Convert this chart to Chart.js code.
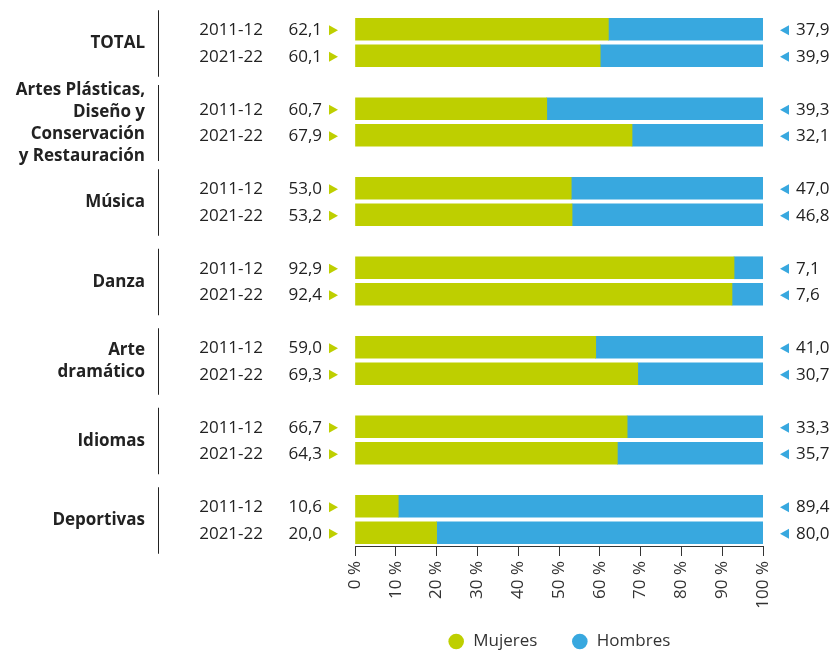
<!DOCTYPE html>
<html lang="es">
<head>
    <meta charset="UTF-8">
    <title>Mujeres y hombres por enseñanza</title>
    <script src="https://cdn.jsdelivr.net/npm/chart.js@4.4.0/dist/chart.umd.min.js"></script>
    <style>
        html, body { margin: 0; padding: 0; background: #fff; }
        #wrap { width: 838px; height: 651px; position: relative; }
    </style>
</head>
<body>
    <div id="wrap"><canvas id="chart"></canvas></div>

    <script>
        // Groups (multi-line names) and the two school years shown for each
        const groups = [
            ['TOTAL'],
            ['Artes Plásticas,', 'Diseño y', 'Conservación', 'y Restauración'],
            ['Música'],
            ['Danza'],
            ['Arte', 'dramático'],
            ['Idiomas'],
            ['Deportivas']
        ];
        const years = ['2011-12', '2021-22'];

        // Printed percentages, per group: 2011-12 then 2021-22
        const mujeres = [62.1, 60.1, 60.7, 67.9, 53.0, 53.2, 92.9, 92.4, 59.0, 69.3, 66.7, 64.3, 10.6, 20.0];
        const hombres = [37.9, 39.9, 39.3, 32.1, 47.0, 46.8, 7.1, 7.6, 41.0, 30.7, 33.3, 35.7, 89.4, 80.0];

        // Bar lengths as drawn in the original (Artes Plásticas 2011-12 is drawn shorter than its label)
        const mujeresBar = [62.1, 60.1, 47.0, 67.9, 53.0, 53.2, 92.9, 92.4, 59.0, 69.3, 66.7, 64.3, 10.6, 20.0];
        const hombresBar = [37.9, 39.9, 53.0, 32.1, 47.0, 46.8, 7.1, 7.6, 41.0, 30.7, 33.3, 35.7, 89.4, 80.0];

        const GREEN = '#BECF00';
        const BLUE = '#38A8DF';
        const FONT = "'Open Sans', sans-serif";

        // one empty row between groups
        const rowLabels = [];
        groups.forEach((g, gi) => {
            years.forEach(y => rowLabels.push(y));
            if (gi < groups.length - 1) rowLabels.push('');
        });
        function toRows(arr) {
            const out = [];
            groups.forEach((g, gi) => {
                out.push(arr[gi * 2], arr[gi * 2 + 1]);
                if (gi < groups.length - 1) out.push(null);
            });
            return out;
        }
        function fmt(v) {
            return v.toFixed(1).replace('.', ',');
        }

        // Year labels, printed values, markers and group names
        const sidePlugin = {
            id: 'sideText',
            afterLayout(chart) {
                // pull the legend up a little, the x labels need the room above it
                chart.legend.top -= 13;
                chart.legend.bottom -= 13;
            },
            afterDatasetsDraw(chart) {
                const ctx = chart.ctx;
                const area = chart.chartArea;
                const meta = chart.getDatasetMeta(0);
                ctx.save();
                ctx.textBaseline = 'middle';
                groups.forEach((g, gi) => {
                    const ys = [];
                    years.forEach((yr, j) => {
                        const k = gi * 2 + j;
                        const y = meta.data[gi * 3 + j].y + 1;
                        ys.push(y);

                        ctx.font = '17px ' + FONT;
                        ctx.fillStyle = '#222';
                        ctx.textAlign = 'right';
                        ctx.fillText(yr, area.left - 92, y);
                        ctx.fillText(fmt(mujeres[k]), area.left - 33, y);
                        ctx.textAlign = 'left';
                        ctx.fillText(fmt(hombres[k]), area.right + 33, y);

                        // green marker pointing right
                        ctx.fillStyle = GREEN;
                        ctx.beginPath();
                        ctx.moveTo(area.left - 26, y - 5);
                        ctx.lineTo(area.left - 17, y);
                        ctx.lineTo(area.left - 26, y + 5);
                        ctx.closePath();
                        ctx.fill();

                        // blue marker pointing left
                        ctx.fillStyle = BLUE;
                        ctx.beginPath();
                        ctx.moveTo(area.right + 26, y - 5);
                        ctx.lineTo(area.right + 17, y);
                        ctx.lineTo(area.right + 26, y + 5);
                        ctx.closePath();
                        ctx.fill();
                    });

                    const mid = (ys[0] + ys[1]) / 2;
                    const lh = 22;
                    ctx.font = 'bold 17px ' + FONT;
                    ctx.fillStyle = '#222';
                    ctx.textAlign = 'right';
                    g.forEach((line, li) => {
                        ctx.fillText(line, area.left - 210, mid + (li - (g.length - 1) / 2) * lh);
                    });

                    // vertical separator
                    const half = Math.max((ys[1] - ys[0]) / 2 + 20, g.length * 19 / 2);
                    ctx.strokeStyle = '#222';
                    ctx.lineWidth = 1;
                    ctx.beginPath();
                    ctx.moveTo(area.left - 196.5, mid - half);
                    ctx.lineTo(area.left - 196.5, mid + half);
                    ctx.stroke();
                });
                ctx.restore();
            }
        };

        new Chart(document.getElementById('chart'), {
            type: 'bar',
            data: {
                labels: rowLabels,
                datasets: [
                    { label: 'Mujeres', data: toRows(mujeresBar), backgroundColor: GREEN, barThickness: 22 },
                    { label: 'Hombres', data: toRows(hombresBar), backgroundColor: BLUE, barThickness: 22 }
                ]
            },
            options: {
                indexAxis: 'y',
                responsive: true,
                maintainAspectRatio: false,
                animation: false,
                layout: { padding: { left: 355, right: 75, top: 16, bottom: -22 } },
                scales: {
                    y: { stacked: true, display: false },
                    x: {
                        stacked: true,
                        min: 0,
                        max: 100,
                        grid: { drawOnChartArea: false, drawTicks: true, tickLength: 10, color: '#333' },
                        border: { display: true, color: '#333' },
                        ticks: {
                            stepSize: 10,
                            autoSkip: false,
                            minRotation: 90,
                            maxRotation: 90,
                            padding: 5,
                            color: '#333',
                            font: { family: FONT, size: 17 },
                            callback: v => v + ' %'
                        },
                        afterFit: s => { s.height = 66; }
                    }
                },
                plugins: {
                    legend: {
                        position: 'bottom',
                        labels: {
                            usePointStyle: true,
                            pointStyle: 'circle',
                            boxWidth: 17,
                            boxHeight: 11,
                            padding: 34,
                            color: '#333',
                            font: { family: FONT, size: 17 }
                        }
                    },
                    tooltip: { enabled: false }
                }
            },
            plugins: [sidePlugin]
        });
    </script>
</body>
</html>
